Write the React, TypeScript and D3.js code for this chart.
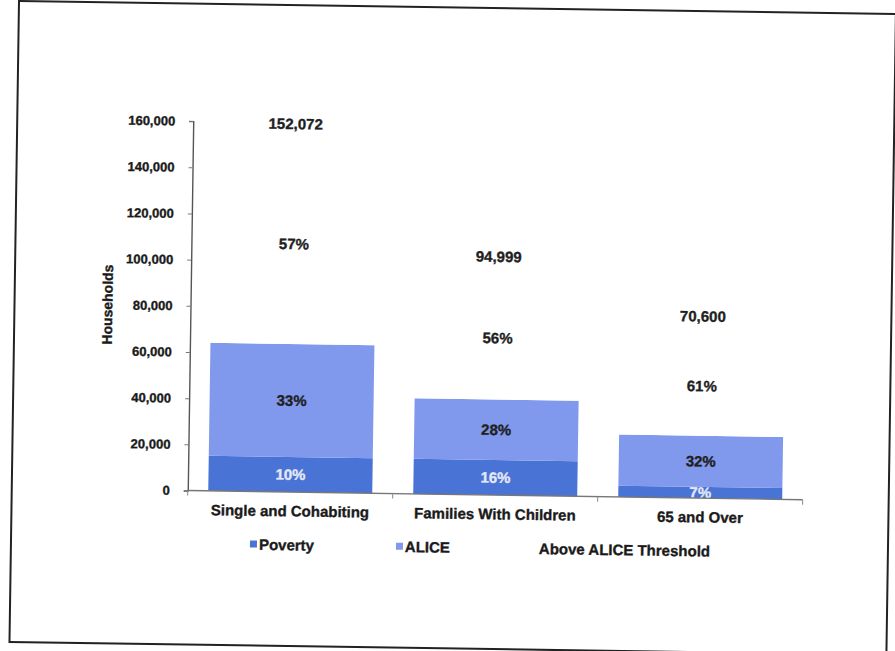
import React, { useEffect, useRef } from "react";
import * as d3 from "d3";

const categories = ["Single and Cohabiting", "Families With Children", "65 and Over"];
const seriesNames = ["Poverty", "ALICE", "Above ALICE Threshold"];
const povertyValues = [15200, 15200, 4900];
const aliceValues = [48900, 26200, 22100];
const aboveValues = [86700, 53200, 43100];
const povertyLabels = ["10%", "16%", "7%"];
const aliceLabels = ["33%", "28%", "32%"];
const aboveLabels = ["57%", "56%", "61%"];
const totalLabels = ["152,072", "94,999", "70,600"];
const yTicks = [0, 20000, 40000, 60000, 80000, 100000, 120000, 140000, 160000];

const colors = ["#4a73d6", "#8099ec", "#ffffff"];
const labelColors = ["#e4e8f4", "#1f1f1f", "#1f1f1f"];
const FONT = "'Liberation Sans', Arial, sans-serif";

export default function App() {
  const yAxisRef = useRef<SVGGElement>(null);

  const x = d3.scaleBand<string>().domain(categories).range([176, 791]).paddingInner(0.2).paddingOuter(0.1);
  const y = d3.scaleLinear().domain([0, 160000]).range([487, 117.5]);

  const rows = categories.map((c, i) => ({
    cat: c,
    Poverty: povertyValues[i],
    ALICE: aliceValues[i],
    "Above ALICE Threshold": aboveValues[i],
  }));
  const stacked = d3.stack<any>().keys(seriesNames)(rows);
  const labelSets = [povertyLabels, aliceLabels, aboveLabels];

  useEffect(() => {
    if (!yAxisRef.current) return;
    const g = d3.select(yAxisRef.current);
    g.selectAll("*").remove();
    g.call(
      d3.axisLeft(y).tickValues(yTicks).tickFormat(d3.format(",") as any).tickSize(4).tickPadding(14)
    );
    g.select(".domain").attr("stroke", "#555").attr("stroke-width", 1.4);
    g.selectAll(".tick line").attr("stroke", "#777");
    g.selectAll(".tick text")
      .attr("font-family", FONT)
      .attr("font-weight", "bold")
      .attr("font-size", 13)
      .attr("fill", "#1a1a1a")
      .attr("stroke", "#1a1a1a")
      .attr("stroke-width", 0.35);
  }, []);

  const boundaries = [0, 1, 2, 3].map((k) => x.range()[0] + k * x.step());
  const heavy = { stroke: "currentColor", strokeWidth: 0.35 };

  return (
    <svg
      width={895}
      height={651}
      style={{ position: "absolute", left: 0, top: 0, background: "#fff" }}
    >
      <g transform="translate(19,1) rotate(0.85)">
        <rect x={0} y={0} width={877} height={641} fill="#fff" stroke="#222" strokeWidth={2} />

        {stacked.map((s, si) =>
          s.map((d, i) => (
            <rect
              key={`${si}-${i}`}
              x={x(categories[i])!}
              y={y(d[1])}
              width={x.bandwidth()}
              height={y(d[0]) - y(d[1])}
              fill={colors[si]}
            />
          ))
        )}

        {stacked.map((s, si) =>
          s.map((d, i) => (
            <text
              key={`l-${si}-${i}`}
              x={x(categories[i])! + x.bandwidth() / 2}
              y={(y(d[0]) + y(d[1])) / 2}
              dy="0.35em"
              textAnchor="middle"
              fontFamily={FONT}
              fontWeight="bold"
              fontSize={15}
              fill={labelColors[si]}
              color={labelColors[si]}
              {...heavy}
            >
              {labelSets[si][i]}
            </text>
          ))
        )}

        {stacked[2].map((d, i) => (
          <text
            key={`t-${i}`}
            x={x(categories[i])! + x.bandwidth() / 2}
            y={y(d[1]) - 20}
            dy="0.35em"
            textAnchor="middle"
            fontFamily={FONT}
            fontWeight="bold"
            fontSize={15}
            fill="#1f1f1f"
            color="#1f1f1f"
            {...heavy}
          >
            {totalLabels[i]}
          </text>
        ))}

        <g ref={yAxisRef} transform="translate(176,0)" />

        <line x1={176} x2={791} y1={y(0)} y2={y(0)} stroke="#777" strokeWidth={1.4} />
        {boundaries.map((b, k) => (
          <line key={`xt-${k}`} x1={b} x2={b} y1={y(0)} y2={y(0) + 5} stroke="#888" />
        ))}
        {categories.map((c) => (
          <text
            key={`c-${c}`}
            x={x(c)! + x.bandwidth() / 2}
            y={y(0) + 19}
            dy="0.35em"
            textAnchor="middle"
            fontFamily={FONT}
            fontWeight="bold"
            fontSize={15}
            fill="#1a1a1a"
            color="#1a1a1a"
            {...heavy}
          >
            {c}
          </text>
        ))}

        <text
          transform={`translate(93,${(y(0) + y(160000)) / 2}) rotate(-90)`}
          textAnchor="middle"
          dy="0.35em"
          fontFamily={FONT}
          fontWeight="bold"
          fontSize={14}
          fill="#1a1a1a"
          color="#1a1a1a"
          {...heavy}
        >
          Households
        </text>

        {seriesNames.map((n, i) => {
          const lx = [246, 392, 526][i];
          return (
            <g key={`lg-${n}`} transform={`translate(${lx},540)`}>
              <rect x={-7} y={-4} width={7} height={7} fill={colors[i]} />
              <text
                x={2}
                dy="0.35em"
                fontFamily={FONT}
                fontWeight="bold"
                fontSize={15}
                fill="#1a1a1a"
                color="#1a1a1a"
                {...heavy}
              >
                {n}
              </text>
            </g>
          );
        })}
      </g>
    </svg>
  );
}
